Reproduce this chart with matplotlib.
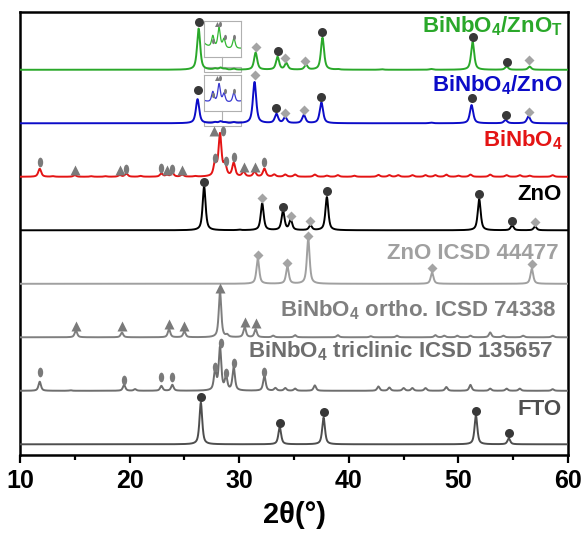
import numpy as np
import matplotlib
matplotlib.use('Agg')
import matplotlib.pyplot as plt
from matplotlib.markers import MarkerStyle
from matplotlib.transforms import Affine2D
from matplotlib.patches import Rectangle

plt.rcParams['font.family'] = ['Liberation Sans', 'DejaVu Sans']
plt.rcParams['font.weight'] = 'bold'
plt.rcParams['mathtext.fontset'] = 'custom'
plt.rcParams['mathtext.rm'] = 'Liberation Sans:bold'
plt.rcParams['mathtext.it'] = 'Liberation Sans:bold'
plt.rcParams['mathtext.bf'] = 'Liberation Sans:bold'
plt.rcParams['mathtext.default'] = 'rm'

# ---- peak lists (2theta, height above baseline in offset units) ----
GREEN_POS = [26.3, 27.8, 28.3, 28.7, 29.5, 31.5, 33.5, 34.3, 36.1, 37.6, 39.0, 43.0, 47.5, 51.3, 54.4, 56.5]
GREEN_INT = [0.77, 0.020, 0.035, 0.016, 0.018, 0.32, 0.24, 0.12, 0.09, 0.60, 0.01, 0.01, 0.015, 0.52, 0.06, 0.06]
GREEN_MK = [(26.3, 0.90, 'o'), (31.5, 0.43, 'D'), (33.5, 0.36, 'o'), (34.2, 0.22, 'D'),
            (36.0, 0.17, 'D'), (37.6, 0.71, 'o'), (51.3, 0.62, 'o'), (54.4, 0.15, 'o'), (56.4, 0.19, 'D')]

BLUE_POS = [26.2, 27.8, 28.3, 28.7, 29.5, 31.4, 33.4, 34.2, 35.9, 37.5, 47.5, 51.2, 54.3, 56.4]
BLUE_INT = [0.45, 0.018, 0.032, 0.015, 0.017, 0.77, 0.17, 0.11, 0.15, 0.39, 0.012, 0.34, 0.06, 0.13]
BLUE_MK = [(26.2, 0.62, 'o'), (31.4, 0.90, 'D'), (33.4, 0.28, 'o'), (34.2, 0.19, 'D'),
           (35.9, 0.24, 'D'), (37.5, 0.50, 'o'), (51.2, 0.47, 'o'), (54.3, 0.15, 'o'), (56.4, 0.22, 'D')]

RED_POS = [11.8, 13.0, 15.0, 16.5, 17.8, 19.1, 19.7, 21.0, 22.9, 23.4, 23.9, 24.8, 26.0,
           27.8, 28.25, 28.7, 29.5, 30.4, 31.4, 32.3, 33.2, 34.2, 35.1, 36.9, 38.0, 39.0,
           40.5, 42.7, 43.7, 44.5, 45.8, 47.0, 47.9, 48.9, 50.0, 51.1, 52.9, 54.4, 55.6,
           56.5, 58.6]
RED_INT = [0.15, 0.01, 0.03, 0.01, 0.01, 0.03, 0.06, 0.015, 0.06, 0.03, 0.07, 0.04, 0.01,
           0.25, 0.78, 0.22, 0.25, 0.09, 0.09, 0.15, 0.04, 0.04, 0.04, 0.04, 0.02, 0.03,
           0.02, 0.035, 0.03, 0.03, 0.03, 0.03, 0.03, 0.04, 0.02, 0.04, 0.04, 0.03, 0.03,
           0.02, 0.03]
RED_MK = [(11.8, 0.28, 'e'), (15.0, 0.13, '^'), (19.1, 0.13, '^'), (19.7, 0.15, 'e'),
          (22.9, 0.17, 'e'), (23.4, 0.13, '^'), (23.9, 0.15, 'e'), (24.8, 0.13, '^'),
          (27.7, 0.86, '^'), (28.55, 0.86, 'e'), (27.8, 0.36, 'e'), (28.8, 0.30, 'e'),
          (29.5, 0.37, 'e'), (30.4, 0.19, '^'), (31.4, 0.19, '^'), (32.3, 0.28, 'e')]

ZNO_POS = [26.8, 30.0, 32.1, 34.0, 34.7, 36.5, 38.0, 51.9, 54.9, 57.0]
ZNO_INT = [0.82, 0.01, 0.50, 0.36, 0.19, 0.09, 0.62, 0.58, 0.09, 0.07]
ZNO_MK = [(26.8, 0.90, 'o'), (32.1, 0.60, 'D'), (34.0, 0.43, 'o'), (34.7, 0.26, 'D'),
          (36.5, 0.17, 'D'), (38.0, 0.73, 'o'), (51.9, 0.67, 'o'), (54.9, 0.17, 'o'), (57.0, 0.15, 'D')]

ICSD_ZNO_POS = [31.7, 34.4, 36.3, 47.6, 56.7]
ICSD_ZNO_INT = [0.47, 0.32, 0.84, 0.21, 0.28]
ICSD_ZNO_MK = [(31.7, 0.54, 'D'), (34.4, 0.39, 'D'), (36.3, 0.90, 'D'), (47.6, 0.30, 'D'), (56.7, 0.37, 'D')]

ORTHO_POS = [15.1, 19.3, 23.6, 25.0, 28.25, 28.9, 30.5, 31.5, 33.1, 35.1, 39.0, 42.0, 44.4,
             47.9, 48.7, 49.9, 51.1, 52.9, 54.1, 55.9, 58.6]
ORTHO_INT = [0.13, 0.09, 0.15, 0.11, 0.86, 0.04, 0.19, 0.15, 0.03, 0.04, 0.04, 0.02, 0.03,
             0.04, 0.03, 0.03, 0.03, 0.09, 0.03, 0.03, 0.03]
ORTHO_MK = [(15.1, 0.22, '^'), (19.3, 0.21, '^'), (23.6, 0.24, '^'), (25.0, 0.22, '^'),
            (28.25, 0.93, '^'), (30.5, 0.28, '^'), (31.5, 0.26, '^')]

TRIC_POS = [11.8, 14.6, 19.5, 20.5, 22.9, 23.9, 27.8, 28.25, 28.8, 29.5, 32.3, 33.3, 34.2,
            35.1, 36.9, 42.7, 43.7, 45.0, 45.8, 47.0, 48.9, 51.1, 52.9, 54.4, 55.6, 58.6]
TRIC_INT = [0.17, 0.01, 0.11, 0.03, 0.09, 0.11, 0.36, 0.80, 0.25, 0.43, 0.28, 0.05, 0.05,
            0.04, 0.10, 0.08, 0.06, 0.05, 0.05, 0.05, 0.07, 0.11, 0.04, 0.04, 0.04, 0.03]
TRIC_MK = [(11.8, 0.36, 'e'), (19.5, 0.21, 'e'), (22.9, 0.26, 'e'), (23.9, 0.26, 'e'),
           (27.8, 0.45, 'e'), (28.3, 0.90, 'e'), (28.8, 0.34, 'e'), (29.5, 0.52, 'e'), (32.3, 0.36, 'e')]

FTO_POS = [26.5, 33.7, 37.7, 51.6, 54.6]
FTO_INT = [0.78, 0.32, 0.50, 0.54, 0.11]
FTO_MK = [(26.5, 0.88, 'o'), (33.7, 0.39, 'o'), (37.7, 0.60, 'o'), (51.6, 0.62, 'o'), (54.6, 0.21, 'o')]

# zoomed-in small BiNbO4 peaks shown in the insets (x, fraction of inset height)
INSET_MK = [(27.8, 0.45, 'e'), (28.15, 0.93, '^'), (28.4, 0.93, 'e'), (28.75, 0.55, 'e'), (29.5, 0.55, 'e')]

LABELS = [r'BiNbO$_4$/ZnO$_T$', r'BiNbO$_4$/ZnO', r'BiNbO$_4$', 'ZnO', 'ZnO ICSD 44477',
          r'BiNbO$_4$ ortho. ICSD 74338', r'BiNbO$_4$ triclinic ICSD 135657', 'FTO']

patterns = [
    # pos, int, markers, baseline, color, fwhm, label baseline y, label right x
    (GREEN_POS, GREEN_INT, GREEN_MK, 7, '#2aa82a', 0.34, 7.69, 59.55),
    (BLUE_POS, BLUE_INT, BLUE_MK, 6, '#0c0cc8', 0.36, 6.59, 59.45),
    (RED_POS, RED_INT, RED_MK, 5, '#e41414', 0.32, 5.56, 59.5),
    (ZNO_POS, ZNO_INT, ZNO_MK, 4, '#000000', 0.32, 4.57, 59.45),
    (ICSD_ZNO_POS, ICSD_ZNO_INT, ICSD_ZNO_MK, 3, '#a0a0a0', 0.3, 3.47, 59.1),
    (ORTHO_POS, ORTHO_INT, ORTHO_MK, 2, '#7f7f7f', 0.27, 2.39, 59.0),
    (TRIC_POS, TRIC_INT, TRIC_MK, 1, '#6e6e6e', 0.27, 1.63, 58.6),
    (FTO_POS, FTO_INT, FTO_MK, 0, '#4e4e4e', 0.3, 0.55, 59.45),
]

MK_COLORS = {'o': '#383838', 'D': '#a4a4a4', '^': '#7a7a7a', 'e': '#7a7a7a'}
MK_SIZES = {'o': 6.5, 'D': 5, '^': 6.5, 'e': 7}
ellipse = MarkerStyle('o', transform=Affine2D().scale(0.55, 1.0))

x = np.linspace(10, 60, 6001)


def profile(pos, inten, fwhm, xx=x):
    g = fwhm / 2
    y = np.zeros_like(xx)
    for p, h in zip(pos, inten):
        y += h * (0.7 / (1 + ((xx - p) / g) ** 2) + 0.3 * np.exp(-np.log(2) * ((xx - p) / g) ** 2))
    return y


def draw_markers(ax, mk, base, size_scale=1.0):
    for kind in ['o', 'D', '^', 'e']:
        pts = [(m[0], m[1]) for m in mk if m[2] == kind]
        if not pts:
            continue
        xs, ys = zip(*pts)
        marker = ellipse if kind == 'e' else kind
        ax.plot(xs, np.array(ys) + base, ls='none', marker=marker,
                ms=MK_SIZES[kind] * size_scale, color=MK_COLORS[kind], mec='none', zorder=4)


fig = plt.figure(figsize=(5.85, 5.38), dpi=100)
ax = fig.add_axes([20 / 585, 83 / 538, 548 / 585, 443 / 538])

for (pos, inten, mk, base, col, fw, ly, lx), lab in zip(patterns, LABELS):
    ax.plot(x, profile(pos, inten, fw) + base, color=col, lw=1.4, zorder=3)
    draw_markers(ax, mk, base)
    ax.text(lx, ly, lab, ha='right', va='baseline', color=col, fontsize=16, fontweight='bold')

# insets for the composite patterns
for (pos, inten, mk, base, col, fw, ly, lx), iny, incol in [
        (patterns[0], 7.24, '#33b833'), (patterns[1], 6.23, '#3a3ad0')]:
    ins = ax.inset_axes([26.8, iny, 3.4, 0.67], transform=ax.transData)
    xi = np.linspace(27.1, 30.1, 600)
    ins.plot(xi, profile(pos, inten, 0.24, xi), color=incol, lw=0.9)
    ins.set_xlim(27.1, 30.1)
    ins.set_ylim(-0.012, 0.05)
    for mx, fy, kind in INSET_MK:
        marker = ellipse if kind == 'e' else kind
        ins.plot([mx], [-0.012 + fy * 0.062], ls='none', marker=marker,
                 ms=MK_SIZES[kind] * 0.55, color=MK_COLORS[kind], mec='none')
    ins.set_xticks([])
    ins.set_yticks([])
    for s in ins.spines.values():
        s.set_color('#b0b0b0')
        s.set_linewidth(0.8)
    ins.patch.set_alpha(0)
    ax.add_patch(Rectangle((26.8, base - 0.05), 3.4, 0.1, fill=False, ec='#b0b0b0', lw=0.8, zorder=2))
    ax.plot([28.4, 28.4], [base + 0.05, iny], color='#b0b0b0', lw=0.8, zorder=2)

ax.set_xlim(10, 60)
ax.set_ylim(-0.2, 8.08)
ax.set_yticks([])
ax.set_xticks([10, 20, 30, 40, 50, 60])
ax.set_xticks([15, 25, 35, 45, 55], minor=True)
ax.tick_params(axis='x', which='major', direction='out', length=6, width=1.6, labelsize=18, pad=4)
ax.tick_params(axis='x', which='minor', direction='out', length=3.5, width=1.6)
for lbl in ax.get_xticklabels():
    lbl.set_fontweight('bold')
for s in ax.spines.values():
    s.set_linewidth(1.8)
ax.set_xlabel('2θ(°)', fontsize=21, fontweight='bold', labelpad=6)

fig.savefig('out.png', dpi=100)
